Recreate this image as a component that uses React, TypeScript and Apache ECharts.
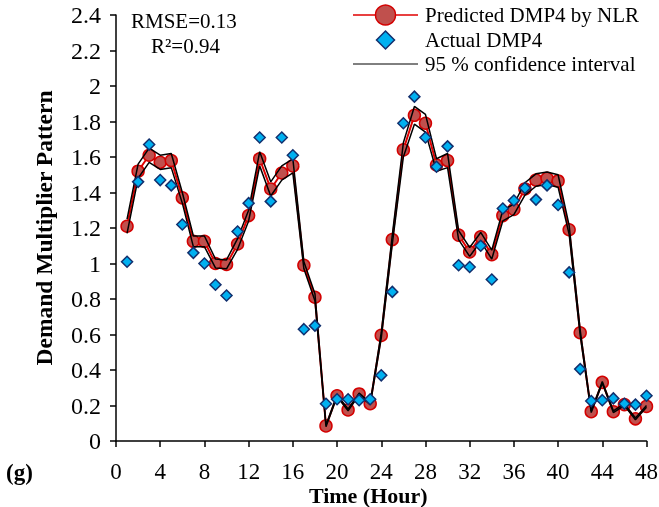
import React, { useEffect, useRef } from "react";
import * as echarts from "echarts";

const hours = [1, 2, 3, 4, 5, 6, 7, 8, 9, 10, 11, 12, 13, 14, 15, 16, 17, 18, 19, 20, 21, 22, 23, 24,
  25, 26, 27, 28, 29, 30, 31, 32, 33, 34, 35, 36, 37, 38, 39, 40, 41, 42, 43, 44, 45, 46, 47, 48];

const predicted = [1.21, 1.52, 1.61, 1.57, 1.58, 1.37, 1.125, 1.125, 1.0, 0.995, 1.11, 1.27,
  1.59, 1.42, 1.51, 1.55, 0.99, 0.81, 0.085, 0.255, 0.175, 0.265, 0.21, 0.595,
  1.135, 1.64, 1.835, 1.79, 1.555, 1.58, 1.16, 1.065, 1.15, 1.05, 1.27, 1.305,
  1.42, 1.47, 1.48, 1.465, 1.19, 0.61, 0.165, 0.33, 0.165, 0.205, 0.125, 0.195];

const actual = [1.01, 1.46, 1.67, 1.47, 1.44, 1.22, 1.06, 1.0, 0.88, 0.82, 1.18, 1.34,
  1.71, 1.35, 1.71, 1.61, 0.63, 0.65, 0.21, 0.235, 0.235, 0.23, 0.235, 0.37,
  0.84, 1.79, 1.94, 1.71, 1.545, 1.66, 0.99, 0.98, 1.1, 0.91, 1.31, 1.355,
  1.425, 1.36, 1.44, 1.33, 0.95, 0.405, 0.225, 0.23, 0.24, 0.21, 0.205, 0.255];

const upperCI = [1.25, 1.56, 1.65, 1.61, 1.62, 1.40, 1.155, 1.155, 1.025, 1.02, 1.14, 1.30,
  1.63, 1.46, 1.55, 1.59, 1.01, 0.83, 0.09, 0.26, 0.18, 0.27, 0.215, 0.61,
  1.16, 1.68, 1.885, 1.84, 1.59, 1.62, 1.185, 1.09, 1.175, 1.075, 1.30, 1.335,
  1.455, 1.505, 1.515, 1.50, 1.215, 0.625, 0.17, 0.335, 0.17, 0.21, 0.13, 0.20];

const lowerCI = [1.17, 1.48, 1.57, 1.53, 1.54, 1.34, 1.095, 1.095, 0.975, 0.97, 1.08, 1.24,
  1.55, 1.38, 1.47, 1.51, 0.97, 0.79, 0.08, 0.25, 0.17, 0.26, 0.205, 0.58,
  1.11, 1.60, 1.785, 1.74, 1.52, 1.54, 1.135, 1.04, 1.125, 1.025, 1.24, 1.275,
  1.385, 1.435, 1.445, 1.43, 1.165, 0.595, 0.16, 0.325, 0.16, 0.20, 0.12, 0.19];

const legendNames = ["Predicted DMP4 by NLR", "Actual DMP4", "95 % confidence interval"];
const statsLines = ["RMSE=0.13", "R²=0.94"];

const FONT = '"Liberation Serif", "Times New Roman", serif';

export default function App() {
  const ref = useRef<HTMLDivElement>(null);
  useEffect(() => {
    const chart = echarts.init(ref.current as HTMLDivElement, null, { renderer: "svg" });
    const pair = (arr: number[]) => hours.map((h, i) => [h, arr[i]]);
    const legX = 353;
    const legW = 65;
    const legTextX = 425;
    const rows = [15, 40, 64];
    chart.setOption({
      animation: false,
      textStyle: { fontFamily: FONT, color: "#000" },
      grid: { left: 116, right: 12.5, top: 15, bottom: 66, containLabel: false, outerBoundsMode: "none" },
      xAxis: {
        type: "value",
        min: 0,
        max: 48,
        interval: 4,
        name: "Time (Hour)",
        nameLocation: "middle",
        nameGap: 43,
        nameMoveOverlap: false,
        nameTextStyle: { fontFamily: FONT, fontSize: 22, fontWeight: "bold", color: "#000", padding: [0, 26, 0, 0] },
        axisLine: { onZero: false, lineStyle: { color: "#000", width: 1.5 } },
        axisTick: { inside: false, length: 6, lineStyle: { color: "#000", width: 1.5 } },
        axisLabel: { fontFamily: FONT, fontSize: 23, color: "#000", margin: 19 },
        splitLine: { show: false },
      },
      yAxis: {
        type: "value",
        min: 0,
        max: 2.4,
        interval: 0.2,
        name: "Demand Multiplier Pattern",
        nameLocation: "middle",
        nameGap: 60,
        nameMoveOverlap: false,
        nameTextStyle: { fontFamily: FONT, fontSize: 23.5, fontWeight: "bold", color: "#000" },
        axisLine: { show: true, lineStyle: { color: "#000", width: 1.5 } },
        axisTick: { show: true, inside: false, length: 6, lineStyle: { color: "#000", width: 1.5 } },
        axisLabel: { fontFamily: FONT, fontSize: 24, color: "#000", margin: 15 },
        splitLine: { show: false },
      },
      series: [
        {
          name: legendNames[0],
          type: "line",
          data: pair(predicted),
          symbol: "circle",
          symbolSize: 12,
          showAllSymbol: true,
          itemStyle: { color: "#c0504d", borderColor: "#d40000", borderWidth: 1.5 },
          lineStyle: { color: "#e00000", width: 2 },
          z: 2,
        },
        {
          name: legendNames[2],
          type: "line",
          data: pair(upperCI),
          symbol: "none",
          lineStyle: { color: "#000", width: 1.5 },
          z: 3,
        },
        {
          name: legendNames[2],
          type: "line",
          data: pair(lowerCI),
          symbol: "none",
          lineStyle: { color: "#000", width: 1.5 },
          z: 3,
        },
        {
          name: legendNames[1],
          type: "scatter",
          data: pair(actual),
          symbol: "diamond",
          symbolSize: 11,
          itemStyle: { color: "#00b0f0", borderColor: "#12306e", borderWidth: 1.5, opacity: 1 },
          z: 4,
        },
      ],
      graphic: [
        {
          type: "text",
          left: 131,
          top: 10,
          style: { text: statsLines[0], font: `21px ${FONT}`, fill: "#000" },
        },
        {
          type: "text",
          left: 151,
          top: 35,
          style: { text: statsLines[1], font: `21px ${FONT}`, fill: "#000" },
        },
        {
          type: "text",
          left: 6,
          top: 461,
          style: { text: "(g)", font: `bold 23px ${FONT}`, fill: "#000" },
        },
        // legend
        { type: "line", shape: { x1: legX, y1: rows[0], x2: legX + legW, y2: rows[0] }, style: { stroke: "#e00000", lineWidth: 1.5 } },
        { type: "circle", shape: { cx: legX + legW / 2, cy: rows[0], r: 10 }, style: { fill: "#c0504d", stroke: "#d40000", lineWidth: 1.5 } },
        {
          type: "polygon",
          shape: { points: [[legX + legW / 2, rows[1] - 9], [legX + legW / 2 + 9, rows[1]], [legX + legW / 2, rows[1] + 9], [legX + legW / 2 - 9, rows[1]]] },
          style: { fill: "#00b0f0", stroke: "#12306e", lineWidth: 1.5 },
        },
        { type: "line", shape: { x1: legX, y1: rows[2], x2: legX + legW, y2: rows[2] }, style: { stroke: "#000", lineWidth: 1 } },
        { type: "text", x: legTextX, y: rows[0], style: { text: legendNames[0], font: `21px ${FONT}`, fill: "#000", verticalAlign: "middle" } },
        { type: "text", x: legTextX, y: rows[1], style: { text: legendNames[1], font: `21px ${FONT}`, fill: "#000", verticalAlign: "middle" } },
        { type: "text", x: legTextX, y: rows[2], style: { text: legendNames[2], font: `21px ${FONT}`, fill: "#000", verticalAlign: "middle" } },
      ],
    });
    return () => chart.dispose();
  }, []);
  return <div ref={ref} style={{ position: "fixed", left: 0, top: 0, width: 659, height: 507 }} />;
}
